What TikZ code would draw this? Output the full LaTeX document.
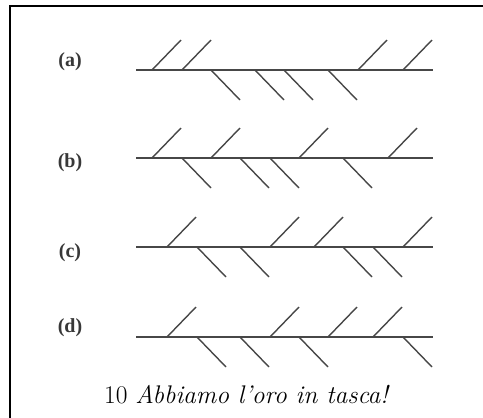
\documentclass[tikz,border=0pt]{standalone}
\usepackage{fontspec}
\newfontfamily\labfont{Liberation Serif}
\begin{document}
\begin{tikzpicture}[x=1pt,y=-1pt,
  spine/.style={draw=black!72,line width=1.5pt},
  twig/.style={draw=black!72,line width=1.4pt},
  frameline/.style={draw=black,line width=2.6pt},
  rowlabel/.style={font=\labfont\bfseries\fontsize{20}{22}\selectfont,text=black!78,inner sep=0pt},
  caption/.style={font=\fontsize{25.5}{29}\selectfont,inner sep=0pt}]
\useasboundingbox (0,0) rectangle (483,418);
\fill[white] (0,0) rectangle (483,418);
% frame (left and top edges)
\draw[frameline] (10,418) -- (10,6) -- (483,6);
% rows: name, y of spine, label y, up-twig bases, down-twig bases
\def\rowdraw#1#2#3#4#5{%
  \node[rowlabel] (lab#1) at (70,#3) {(#1)};
  \draw[spine] (136,#2) -- (433,#2);
  \foreach \u in {#4} {\draw[twig] (\u,#2) -- ++(29,-30);}
  \foreach \d in {#5} {\draw[twig] (\d,#2) -- ++(29,30);}
}
\rowdraw{a}{70}{62}{152,182,358,403}{211,255,284,328}
\rowdraw{b}{158}{163}{152,211,299,388}{182,240,270,343}
\rowdraw{c}{247}{253}{167,270,314,403}{197,240,343,373}
\rowdraw{d}{337}{328}{167,270,328,373}{197,240,299,403}
\node[caption] (cap) at (247,395) {10 \textit{Abbiamo l'oro in tasca!}};
\end{tikzpicture}
\end{document}
